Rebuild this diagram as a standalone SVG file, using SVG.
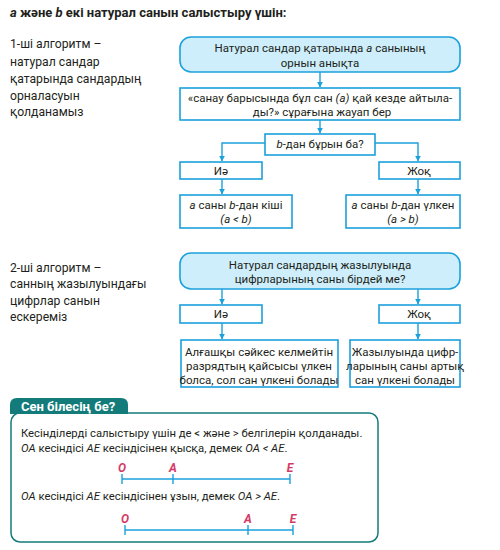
<svg xmlns="http://www.w3.org/2000/svg" width="500" height="550" viewBox="0 0 500 550">
<style>
text{font-family:Roboto,"Noto Sans","DejaVu Sans",sans-serif;fill:#231f20}
.t{font-size:11.5px;text-anchor:middle}
.l{font-size:12.2px}
.i{font-style:italic}
.box{fill:#fff;stroke:#1ba1dc;stroke-width:1.6}
.rbox{fill:#cdeefa;stroke:#1ba1dc;stroke-width:1.6}
.con{fill:none;stroke:#1ba1dc;stroke-width:1.4}
.lab{font-size:12px;font-weight:bold;font-style:italic;fill:#d43a66;text-anchor:middle}
.seg{stroke:#1ba1dc;stroke-width:1.4;fill:none}
.p{font-size:11.3px}
</style>
<defs>
<marker id="ar" viewBox="0 0 10 10" refX="9" refY="5" markerWidth="6" markerHeight="6" orient="auto" markerUnits="userSpaceOnUse">
<path d="M0,0 L10,5 L0,10 z" fill="#1ba1dc"/>
</marker>
</defs>
<rect width="500" height="550" fill="#fff"/>
<text x="10" y="17" style="font-size:13px;font-weight:bold"><tspan class="i">a</tspan> және <tspan class="i">b</tspan> екі натурал санын салыстыру үшін:</text>

<g id="left1">
<text class="l" x="10" y="48">1-ші алгоритм –</text>
<text class="l" x="10" y="66">натурал сандар</text>
<text class="l" x="10" y="83">қатарында сандардың</text>
<text class="l" x="10" y="100">орналасуын</text>
<text class="l" x="10" y="116">қолданамыз</text>
</g>
<g id="left2">
<text class="l" x="10" y="272">2-ші алгоритм –</text>
<text class="l" x="10" y="288">санның жазылуындағы</text>
<text class="l" x="10" y="305">цифрлар санын</text>
<text class="l" x="10" y="321">ескереміз</text>
</g>

<g id="connectors">
<path class="con" d="M320,72 V87" marker-end="url(#ar)"/>
<path class="con" d="M320,120 V133" marker-end="url(#ar)"/>
<path class="con" d="M265,143 H222 V161" marker-end="url(#ar)"/>
<path class="con" d="M375,143 H418 V161" marker-end="url(#ar)"/>
<path class="con" d="M222,179 V194" marker-end="url(#ar)"/>
<path class="con" d="M418,179 V194" marker-end="url(#ar)"/>
<path class="con" d="M222,289 V304" marker-end="url(#ar)"/>
<path class="con" d="M418,289 V304" marker-end="url(#ar)"/>
<path class="con" d="M222,323 V339" marker-end="url(#ar)"/>
<path class="con" d="M418,323 V339" marker-end="url(#ar)"/>
</g>

<g id="n1">
<rect class="rbox" x="180" y="37" width="280" height="35" rx="11"/>
<text class="t" x="320" y="52">Натурал сандар қатарында <tspan class="i">a</tspan> санының</text>
<text class="t" x="320" y="67">орнын анықта</text>
</g>
<g id="n2">
<rect class="box" x="180" y="88" width="280" height="32"/>
<text class="t" x="320" y="102">«санау барысында бұл сан <tspan class="i">(a)</tspan> қай кезде айтыла-</text>
<text class="t" x="322" y="116">ды?» сұрағына жауап бер</text>
</g>
<g id="n3">
<rect class="box" x="265" y="134" width="110" height="21"/>
<text class="t" x="320" y="148"><tspan class="i">b</tspan>-дан бұрын ба?</text>
</g>
<g id="n4">
<rect class="box" x="180" y="162" width="82" height="17"/>
<text class="t" x="221" y="175">Иә</text>
</g>
<g id="n5">
<rect class="box" x="379" y="162" width="81" height="17"/>
<text class="t" x="419" y="175">Жоқ</text>
</g>
<g id="n6">
<rect class="box" x="180" y="195" width="112" height="33"/>
<text class="t" x="236" y="209"><tspan class="i">a</tspan> саны <tspan class="i">b</tspan>-дан кіші</text>
<text class="t i" x="236" y="223">(a &lt; b)</text>
</g>
<g id="n7">
<rect class="box" x="346" y="195" width="114" height="33"/>
<text class="t" x="403" y="209"><tspan class="i">a</tspan> саны <tspan class="i">b</tspan>-дан үлкен</text>
<text class="t i" x="403" y="223">(a &gt; b)</text>
</g>

<g id="n8">
<rect class="rbox" x="180" y="253" width="280" height="36" rx="11"/>
<text class="t" x="320" y="269">Натурал сандардың жазылуында</text>
<text class="t" x="320" y="283">цифрларының саны бірдей ме?</text>
</g>
<g id="n9">
<rect class="box" x="180" y="305" width="82" height="18"/>
<text class="t" x="221" y="318">Иә</text>
</g>
<g id="n10">
<rect class="box" x="379" y="305" width="81" height="18"/>
<text class="t" x="419" y="318">Жоқ</text>
</g>
<g id="n11">
<rect class="box" x="181" y="340" width="157" height="47"/>
<text class="t" x="259" y="356">Алғашқы сәйкес келмейтін</text>
<text class="t" x="259" y="370">разрядтың қайсысы үлкен</text>
<text class="t" x="259" y="384">болса, сол сан үлкені болады</text>
</g>
<g id="n12">
<rect class="box" x="350" y="340" width="110" height="47"/>
<text class="t" x="405" y="356">Жазылуында цифр-</text>
<text class="t" x="405" y="370">ларының саны артық</text>
<text class="t" x="405" y="384">сан үлкені болады</text>
</g>

<g id="info">
<rect x="11" y="413" width="367" height="129" rx="9" fill="#fff" stroke="#137c7a" stroke-width="1.5"/>
<path d="M10,414 V405 Q10,398 17,398 H121 Q128,398 128,405 V414 Z" fill="#137c7a"/>
<text x="21" y="411" style="font-size:13px;font-weight:bold;fill:#fff">Сен білесің бе?</text>
<text class="p" x="21" y="437">Кесінділерді салыстыру үшін де &lt; және &gt; белгілерін қолданады.</text>
<text class="p" x="21" y="452"><tspan class="i">OA</tspan> кесіндісі <tspan class="i">AE</tspan> кесіндісінен қысқа, демек <tspan class="i">OA &lt; AE</tspan>.</text>
<text class="lab" x="122" y="472">O</text>
<text class="lab" x="173" y="472">A</text>
<text class="lab" x="290" y="472">E</text>
<path class="seg" d="M122,479 H290 M122,474 V484 M173,474 V484 M290,474 V484"/>
<text class="p" x="21" y="500"><tspan class="i">OA</tspan> кесіндісі <tspan class="i">AE</tspan> кесіндісінен ұзын, демек <tspan class="i">OA &gt; AE</tspan>.</text>
<text class="lab" x="125" y="523">O</text>
<text class="lab" x="248" y="523">A</text>
<text class="lab" x="293" y="523">E</text>
<path class="seg" d="M125,530 H293 M125,525 V535 M248,525 V535 M293,525 V535"/>
</g>
</svg>
